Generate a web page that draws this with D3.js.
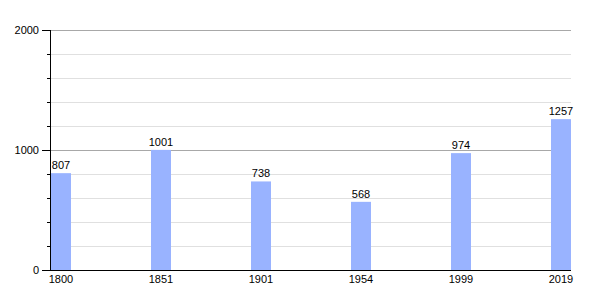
<!DOCTYPE html>
<html><head><meta charset="utf-8">
<script src="https://cdn.jsdelivr.net/npm/d3@7"></script>
<style>body{margin:0;background:#fff;}text{font-family:"Liberation Sans",Arial,sans-serif;font-size:11px;fill:#000;}</style>
</head><body>
<svg id="c" width="600" height="300"></svg>
<script>
const years = ["1800","1851","1901","1954","1999","2019"];
const population = [807,1001,738,568,974,1257];
const majorTicks = [0,1000,2000];
const minorTicks = [200,400,600,800,1200,1400,1600,1800];

const svg = d3.select("#c");
const y = d3.scaleLinear().domain([0,2000]).range([270,30]);
const x = d3.scalePoint().domain(years).range([51,551]);
const bw = 20, x0 = 50, x1 = 571;

svg.selectAll(".minor").data(minorTicks).enter().append("line")
  .attr("x1",x0).attr("x2",x1).attr("y1",d=>y(d)+0.5).attr("y2",d=>y(d)+0.5)
  .attr("stroke","#e0e0e0").attr("stroke-width",1);
svg.selectAll(".major").data(majorTicks.slice(1)).enter().append("line")
  .attr("x1",x0).attr("x2",x1).attr("y1",d=>y(d)+0.5).attr("y2",d=>y(d)+0.5)
  .attr("stroke","#a8a8a8").attr("stroke-width",1);

svg.selectAll(".bar").data(population).enter().append("rect")
  .attr("x",(d,i)=>x(years[i])).attr("width",bw)
  .attr("y",d=>y(d)).attr("height",d=>y(0)-y(d))
  .attr("fill","#99b3ff");

svg.selectAll(".val").data(population).enter().append("text")
  .attr("x",(d,i)=>x(years[i])+bw/2).attr("y",d=>y(d)-4)
  .attr("text-anchor","middle").text(d=>d);

// axes
svg.append("line").attr("x1",x0+0.5).attr("x2",x0+0.5).attr("y1",30).attr("y2",270).attr("stroke","#000");
svg.append("line").attr("x1",x0).attr("x2",x1).attr("y1",270.5).attr("y2",270.5).attr("stroke","#000");
svg.selectAll(".mt").data(majorTicks).enter().append("line")
  .attr("x1",42).attr("x2",x0).attr("y1",d=>y(d)+0.5).attr("y2",d=>y(d)+0.5).attr("stroke","#000");
svg.selectAll(".nt").data(minorTicks).enter().append("line")
  .attr("x1",47).attr("x2",x0).attr("y1",d=>y(d)+0.5).attr("y2",d=>y(d)+0.5).attr("stroke","#000");
svg.selectAll(".yl").data(majorTicks).enter().append("text")
  .attr("x",39).attr("y",d=>y(d)+4).attr("text-anchor","end").text(d=>d);
svg.selectAll(".xl").data(years).enter().append("text")
  .attr("x",d=>x(d)+bw/2).attr("y",283).attr("text-anchor","middle").text(d=>d);
</script>
</body></html>
